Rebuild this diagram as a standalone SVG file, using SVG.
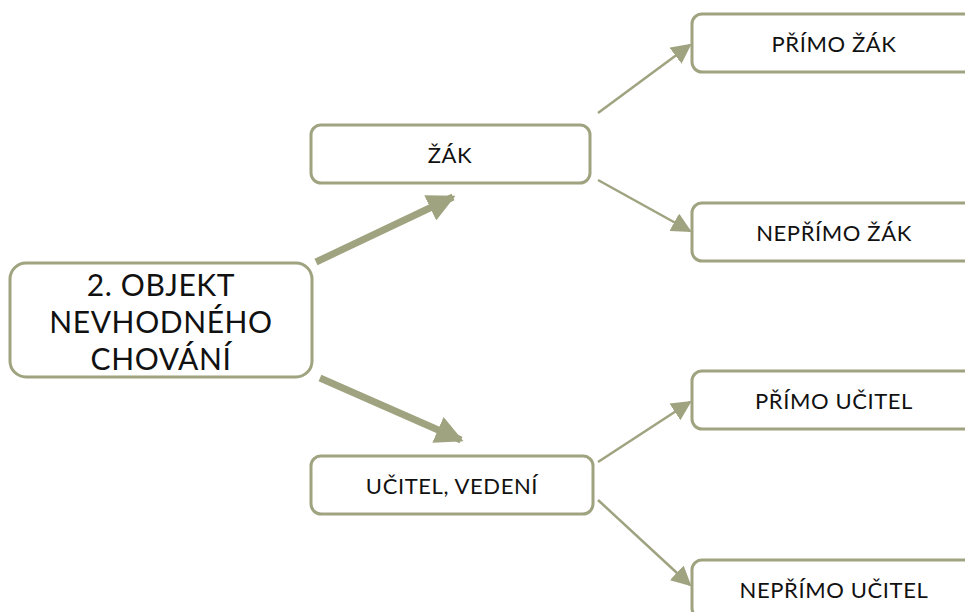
<svg xmlns="http://www.w3.org/2000/svg" width="965" height="612" viewBox="0 0 965 612">
<defs>
<style>
.box{fill:#fff;stroke:#9fa37f;stroke-width:3}
.t{font-family:Lato,"Open Sans","Liberation Sans",sans-serif;fill:#111;text-anchor:middle}
.s{font-size:22px;letter-spacing:0.6px}
.b{font-size:30px;letter-spacing:0.6px}
.thick{stroke:#9fa37f;stroke-width:7;fill:none}
.thin{stroke:#9fa37f;stroke-width:2.5;fill:none}
</style>
<marker id="ah" viewBox="0 0 10 10" refX="9" refY="5" markerWidth="4" markerHeight="4" orient="auto" markerUnits="strokeWidth">
<path d="M0,0 L10,5 L0,10 Z" fill="#9fa37f"/>
</marker>
<marker id="as" viewBox="0 0 10 10" refX="9" refY="5" markerWidth="8" markerHeight="8" orient="auto" markerUnits="strokeWidth">
<path d="M0,0 L10,5 L0,10 Z" fill="#9fa37f"/>
</marker>
</defs>
<g id="connectors">
<line class="thick" x1="316" y1="262" x2="453" y2="197" marker-end="url(#ah)"/>
<line class="thick" x1="320" y1="378" x2="461" y2="440" marker-end="url(#ah)"/>
<line class="thin" x1="598" y1="113" x2="690" y2="45" marker-end="url(#as)"/>
<line class="thin" x1="598" y1="180" x2="690" y2="231" marker-end="url(#as)"/>
<line class="thin" x1="598" y1="462" x2="690" y2="402" marker-end="url(#as)"/>
<line class="thin" x1="598" y1="500" x2="690" y2="585" marker-end="url(#as)"/>
</g>
<g id="main">
<rect class="box" x="10" y="263" width="302" height="114" rx="16"/>
<text class="t b" x="161" y="296">2. OBJEKT</text>
<text class="t b" x="161" y="333">NEVHODNÉHO</text>
<text class="t b" x="161" y="370">CHOVÁNÍ</text>
</g>
<g id="zak">
<rect class="box" x="311" y="125" width="279" height="58" rx="10"/>
<text class="t s" x="450" y="163">ŽÁK</text>
</g>
<g id="ucitel">
<rect class="box" x="311" y="456" width="282" height="58" rx="10"/>
<text class="t s" x="452" y="494">UČITEL, VEDENÍ</text>
</g>
<g id="primo-zak">
<rect class="box" x="692" y="14" width="295" height="58" rx="10"/>
<text class="t s" x="834" y="52">PŘÍMO ŽÁK</text>
</g>
<g id="neprimo-zak">
<rect class="box" x="692" y="203" width="295" height="58" rx="10"/>
<text class="t s" x="834" y="241">NEPŘÍMO ŽÁK</text>
</g>
<g id="primo-ucitel">
<rect class="box" x="692" y="371" width="295" height="58" rx="10"/>
<text class="t s" x="834" y="409">PŘÍMO UČITEL</text>
</g>
<g id="neprimo-ucitel">
<rect class="box" x="692" y="560" width="295" height="58" rx="10"/>
<text class="t s" x="834" y="598">NEPŘÍMO UČITEL</text>
</g>
</svg>
